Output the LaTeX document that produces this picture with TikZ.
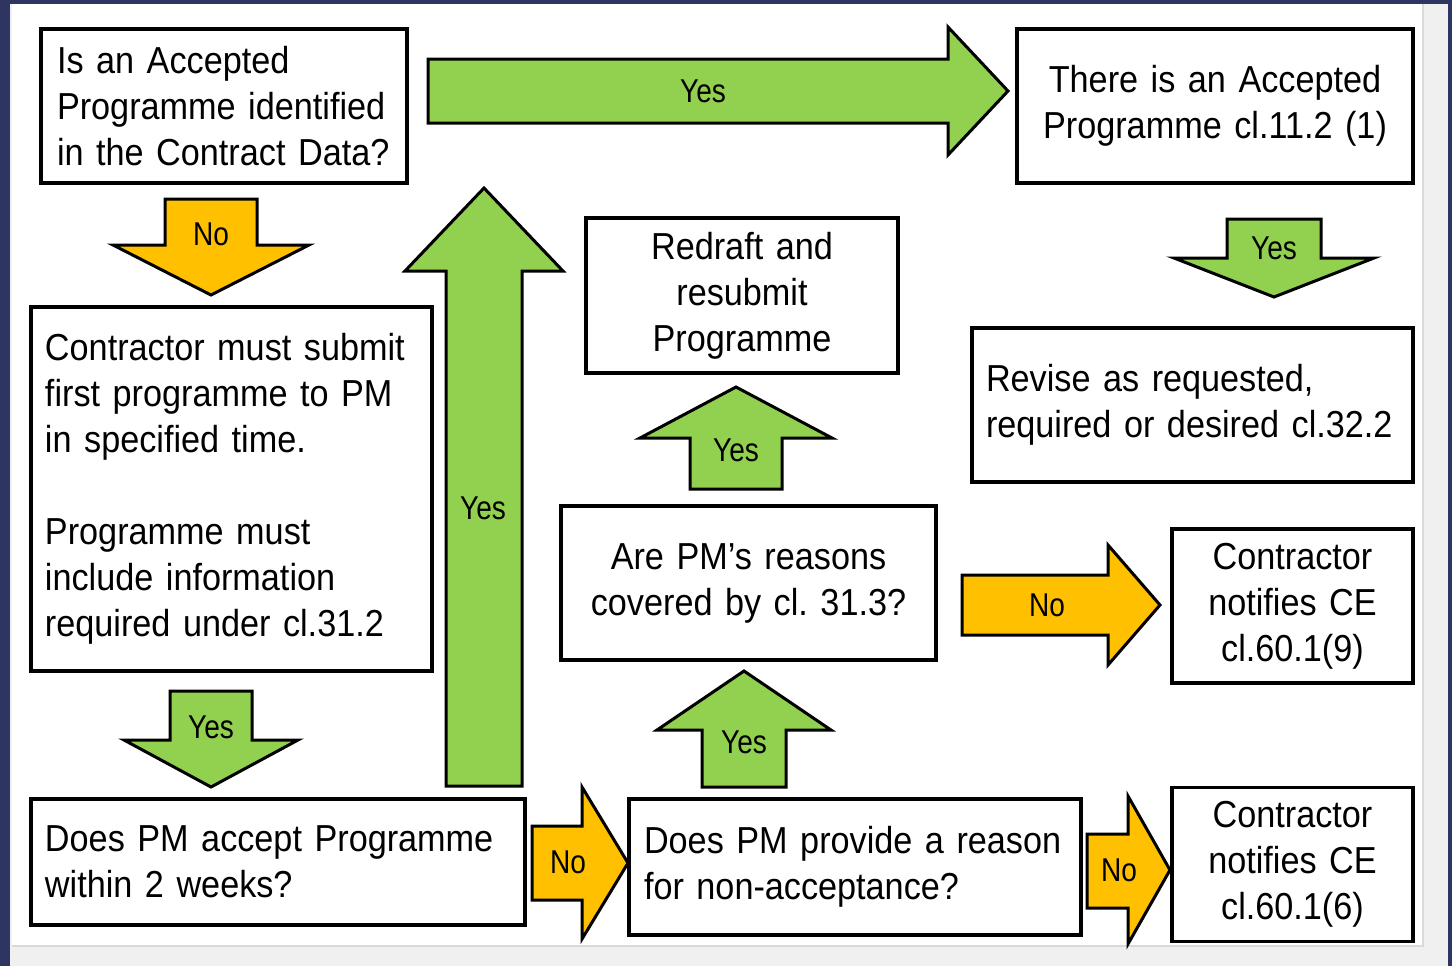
\documentclass[tikz,border=0pt]{standalone}
\usepackage{fontspec}
\setmainfont[FakeStretch=0.91, WordSpace=0.9]{Liberation Sans}
\newfontfamily\tagfont[FakeStretch=0.85]{Liberation Sans}
\usepackage{xcolor}
\usetikzlibrary{positioning,calc}
\definecolor{Navy}{RGB}{46,53,96}
\definecolor{Panel}{RGB}{240,240,240}
\definecolor{YesGreen}{RGB}{146,208,80}
\definecolor{NoGold}{RGB}{255,192,0}
\hyphenpenalty=10000
\exhyphenpenalty=10000
\tikzset{
    box/.style={draw=black, line width=1.8pt, fill=white, inner sep=7pt,
        font=\fontsize{18.8pt}{23pt}\selectfont},
    yesarrow/.style={draw=black, line width=1.5pt, fill=YesGreen, line join=miter},
    noarrow/.style={draw=black, line width=1.5pt, fill=NoGold, line join=miter},
    tag/.style={font=\tagfont\fontsize{16.5pt}{18pt}\selectfont}
}

\begin{document}
\begin{tikzpicture}[x=0.5pt, y=-0.5pt]
    \useasboundingbox (0,0) rectangle (1452,966);
    % slide frame
    \fill[Navy] (0,0) rectangle (1452,966);
    \fill[Panel] (10,4) rectangle (1448,966);
    \fill[white] (12,4) rectangle (1423,946);
    \draw[black!15, line width=0.6pt] (1423,4) -- (1423,946) -- (12,946);

    % block arrows
    \draw[yesarrow] (428,59) -- (948,59) -- (948,27) -- (1008,91) -- (948,155) -- (948,123) -- (428,123) -- cycle;
    \draw[noarrow] (165,199) -- (257,199) -- (257,245) -- (309,245) -- (211,295) -- (113,245) -- (165,245) -- cycle;
    \draw[yesarrow] (170,691) -- (252,691) -- (252,740) -- (298,740) -- (211,787) -- (124,740) -- (170,740) -- cycle;
    \draw[yesarrow] (446,786) -- (522,786) -- (522,271) -- (563,271) -- (484,188) -- (405,271) -- (446,271) -- cycle;
    \draw[yesarrow] (690,489) -- (782,489) -- (782,438) -- (832,438) -- (736,387) -- (640,438) -- (690,438) -- cycle;
    \draw[yesarrow] (702,787) -- (786,787) -- (786,730) -- (831,730) -- (744,671) -- (657,730) -- (702,730) -- cycle;
    \draw[noarrow] (962,575) -- (1108,575) -- (1108,545) -- (1160,605) -- (1108,665) -- (1108,635) -- (962,635) -- cycle;
    \draw[noarrow] (532,826) -- (582,826) -- (582,787) -- (628,863) -- (582,939) -- (582,900) -- (532,900) -- cycle;
    \draw[noarrow] (1087,834) -- (1128,834) -- (1128,796) -- (1170,870) -- (1128,944) -- (1128,908) -- (1087,908) -- cycle;
    \draw[yesarrow] (1227,219) -- (1321,219) -- (1321,258) -- (1374,258) -- (1274,297) -- (1174,258) -- (1227,258) -- cycle;

    % arrow labels
    \node[tag] (yesAccepted) at (703,91) {Yes};
    \node[tag] (noIdentified) at (211,234) {No};
    \node[tag] (yesSubmitted) at (211,727) {Yes};
    \node[tag] (yesAccept) at (483,508) {Yes};
    \node[tag] (yesRedraft) at (736,450) {Yes};
    \node[tag] (yesReason) at (744,742) {Yes};
    \node[tag] (noCovered) at (1047,605) {No};
    \node[tag] (noAccept) at (568,862) {No};
    \node[tag] (noReason) at (1119,870) {No};
    \node[tag] (yesRevise) at (1274,248) {Yes};

    % boxes
    \node[box, minimum width=183pt, minimum height=77pt, inner xsep=8pt,
        text width=167pt, align=left] (identified) at (224,106)
        {Is an Accepted\\Programme identified\\in the Contract Data?};
    \node[box, minimum width=198pt, minimum height=77pt, text width=184pt,
        align=center] (accepted) at (1215,106)
        {There is an Accepted\\Programme cl.11.2 (1)};
    \node[box, minimum width=200.5pt, minimum height=182pt, text width=186.5pt,
        align=left] (submit) at (231.5,489)
        {Contractor must submit\\first programme to PM\\in specified time.\\[23pt]
         Programme must\\include information\\required under cl.31.2};
    \node[box, minimum width=156pt, minimum height=76.5pt, text width=142pt,
        align=center] (redraft) at (742,295.5)
        {Redraft and\\resubmit\\Programme};
    \node[box, minimum width=220.5pt, minimum height=77pt, text width=206.5pt,
        align=left] (revise) at (1192.5,405)
        {Revise as requested,\\required or desired cl.32.2};
    \node[box, minimum width=187.5pt, minimum height=77pt, text width=173.5pt,
        align=center] (covered) at (748.5,583)
        {Are PM’s reasons\\covered by cl.\ 31.3?};
    \node[box, minimum width=120.5pt, minimum height=77pt, text width=106.5pt,
        align=center] (ceNine) at (1292.5,606)
        {Contractor\\notifies CE\\cl.60.1(9)};
    \node[box, minimum width=247pt, minimum height=63pt, text width=233pt,
        align=left] (accept) at (278,862)
        {Does PM accept Programme\\within 2 weeks?};
    \node[box, minimum width=226pt, minimum height=68pt, text width=211pt,
        align=left] (reason) at (855,867)
        {Does PM provide a reason\\for non-acceptance?};
    \node[box, minimum width=120.5pt, minimum height=76.5pt, text width=106.5pt,
        align=center] (ceSix) at (1292.5,864.5)
        {Contractor\\notifies CE\\cl.60.1(6)};
\end{tikzpicture}
\end{document}
